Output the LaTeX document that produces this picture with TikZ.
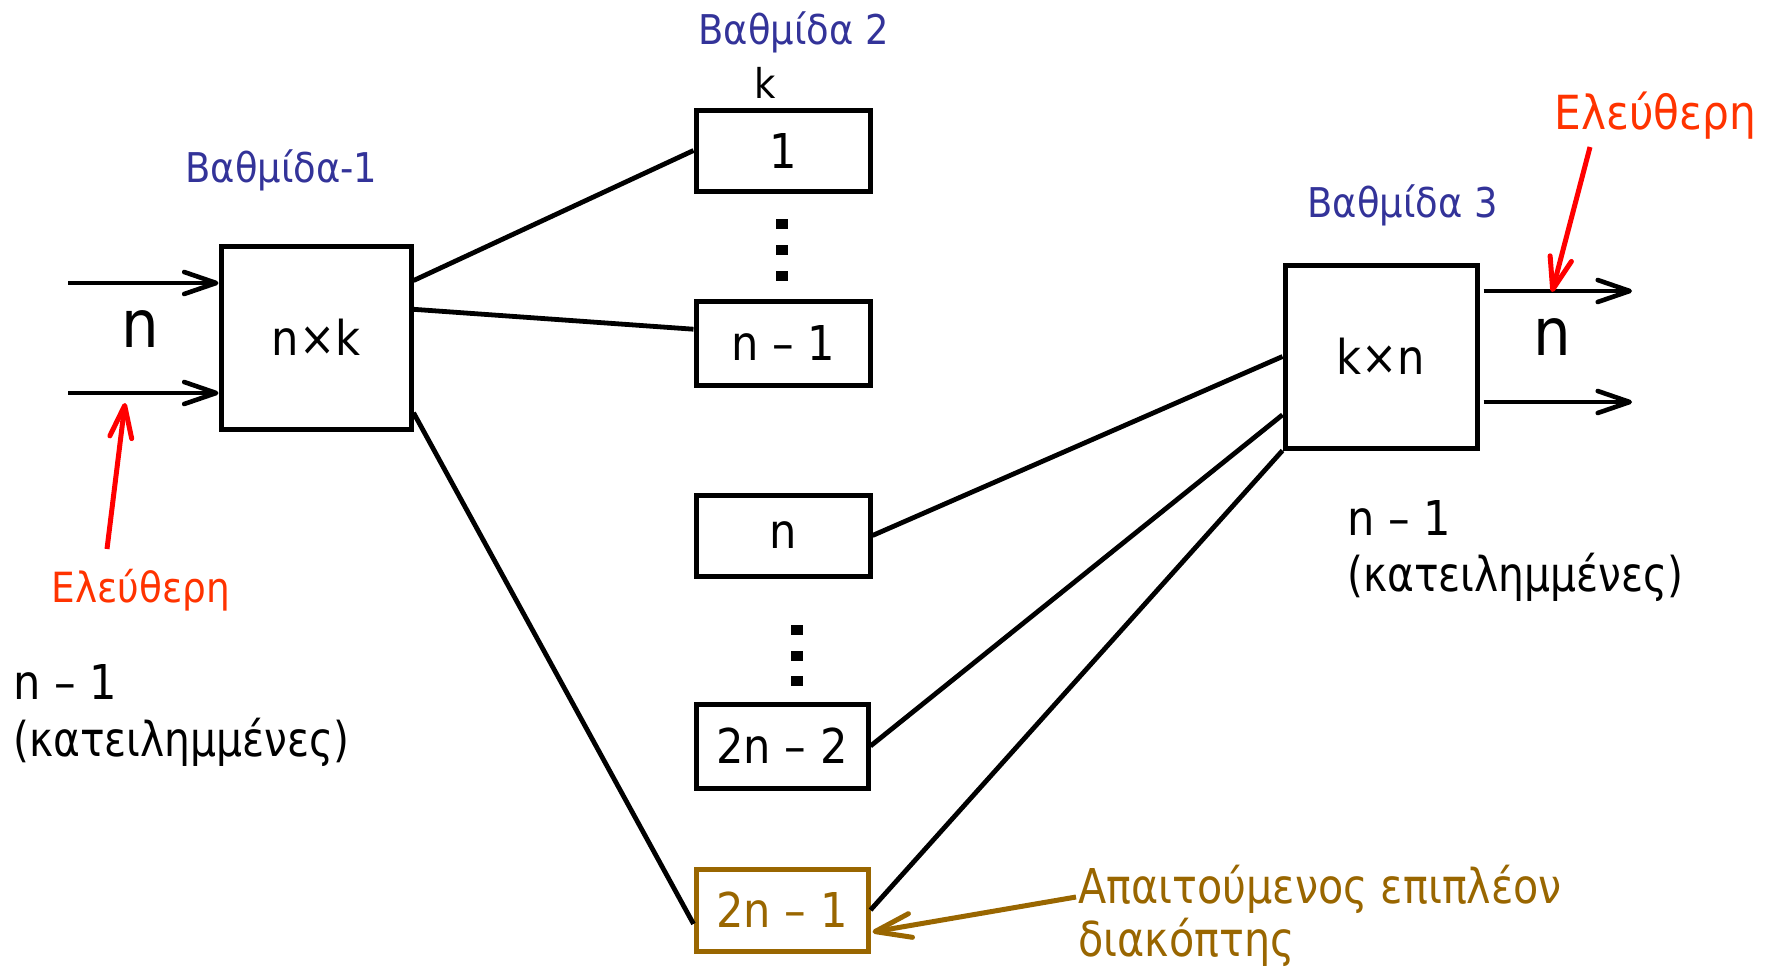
\documentclass[tikz,border=0pt]{standalone}
\usepackage{fontspec}
\setmainfont{DejaVu Sans}[FakeStretch=0.9]
\newfontfamily\narrowfont{DejaVu Sans}[FakeStretch=0.85]
\newfontfamily\midfont{DejaVu Sans}[FakeStretch=0.86]
\usetikzlibrary{arrows.meta,calc}
\definecolor{stageblue}{HTML}{333399}
\definecolor{freered}{HTML}{FF3300}
\definecolor{arrred}{HTML}{FF0000}
\definecolor{extrabrown}{HTML}{996600}
\begin{document}
\begin{tikzpicture}[x=0.5pt,y=-0.5pt,
  box/.style={draw, line width=2.5pt, inner sep=0pt, font=\fontsize{24}{28}\selectfont},
  wire/.style={line width=2.4pt},
  inarrow/.style={line width=2.3pt, -{Straight Barb[length=16pt,width=11pt,round]}},
  redarrow/.style={arrred, line width=2.5pt, -{Straight Barb[length=16pt,width=11pt,round]}},
  brownarrow/.style={extrabrown, line width=2.5pt, -{Straight Barb[length=18pt,width=12pt,round]}},
  txt/.style={inner sep=0pt, anchor=base west},
  stage/.style={txt, stageblue, font=\fontsize{20.5}{24}\selectfont},
  body/.style={txt, font=\fontsize{24}{28}\selectfont},
  bign/.style={inner sep=0pt, anchor=base, font=\fontsize{33}{38}\selectfont}
]
\useasboundingbox (0,0) rectangle (1770,970);

% boxes
\node[box, minimum width=95pt, minimum height=91.5pt] (nk) at (316,337.5) {n×k};
\node[box, minimum width=87pt, minimum height=40.5pt] (b1) at (783,150.5) {1};
\node[box, minimum width=87pt, minimum height=42pt] (bn1) at (783,343) {n – 1};
\node[box, minimum width=87pt, minimum height=40.5pt] (bn) at (783,535.5) {n};
\node[box, minimum width=86pt, minimum height=42pt] (b2n2) at (782,746) {2n – 2};
\node[box, extrabrown, minimum width=86pt, minimum height=41pt] (b2n1) at (782,910) {2n – 1};
\node[box, minimum width=96pt, minimum height=91.5pt] (kn) at (1381,356.5) {k×n};

% dots
\foreach \yy in {224,250,276} \fill (776,\yy-5) rectangle (788,\yy+5);
\foreach \yy in {630,656,681} \fill (791,\yy-5) rectangle (803,\yy+5);

% connectors
\draw[wire] ($(nk.north east)!0.197!(nk.south east)$) -- (b1.west);
\draw[wire] ($(nk.north east)!0.35!(nk.south east)$) -- ($(bn1.north west)!0.345!(bn1.south west)$);
\draw[wire] ($(nk.north east)!0.9!(nk.south east)$) -- ($(b2n1.north west)!0.66!(b2n1.south west)$);
\draw[wire] (bn.east) -- (kn.west);
\draw[wire] (b2n2.east) -- ($(kn.north west)!0.81!(kn.south west)$);
\draw[wire] (b2n1.east) -- (kn.south west);

% input / output arrows
\coordinate (i1) at (68,283);
\coordinate (i2) at (68,393);
\draw[inarrow] (i1) -- (i1 -| nk.west);
\draw[inarrow] (i2) -- (i2 -| nk.west);
\coordinate (o1) at (1632,291);
\coordinate (o2) at (1632,402);
\draw[inarrow] ($(o1 -| kn.east)+(4,0)$) -- (o1);
\draw[inarrow] ($(o2 -| kn.east)+(4,0)$) -- (o2);

% labels
\node[bign] (nin) at (140,347) {n};
\node[bign] (nout) at (1552,355) {n};
\node[stage] (s1) at (185,182) {Βαθμίδα-1};
\node[stage] (s2) at (698,44) {Βαθμίδα 2};
\node[inner sep=0pt, anchor=base, font=\fontsize{20.5}{24}\selectfont] (klab) at (765,98) {k};
\node[stage] (s3) at (1307,217) {Βαθμίδα 3};
\node[txt, freered, font=\fontsize{20.8}{24}\selectfont] (freeL) at (51,602) {Ελεύθερη};
\node[txt, freered, font=\fontsize{23.5}{26}\selectfont] (freeR) at (1554,129) {Ελεύθερη};
\node[body] (busyL1) at (13,699) {n – 1};
\node[body, font=\narrowfont\fontsize{24}{28}\selectfont] (busyL2) at (13,756) {(κατειλημμένες)};
\node[body] (busyR1) at (1347,535) {n – 1};
\node[body, font=\narrowfont\fontsize{24}{28}\selectfont] (busyR2) at (1347,591) {(κατειλημμένες)};
\node[body, extrabrown, font=\midfont\fontsize{24}{28}\selectfont] (extra1) at (1078,903) {Απαιτούμενος επιπλέον};
\node[body, extrabrown, font=\midfont\fontsize{24}{28}\selectfont] (extra2) at (1078,956) {διακόπτης};

% pointer arrows
\coordinate (r1s) at (107,549);
\coordinate (r1t) at (125,403);
\draw[redarrow] (r1s) -- (r1t);
\coordinate (r2s) at (1590,147);
\coordinate (r2t) at (1552,292);
\draw[redarrow] (r2s) -- (r2t);
\coordinate (bs) at (1076,897);
\draw[brownarrow] (bs) -- ($(b2n1.east)+(2,22)$);
\end{tikzpicture}
\end{document}
